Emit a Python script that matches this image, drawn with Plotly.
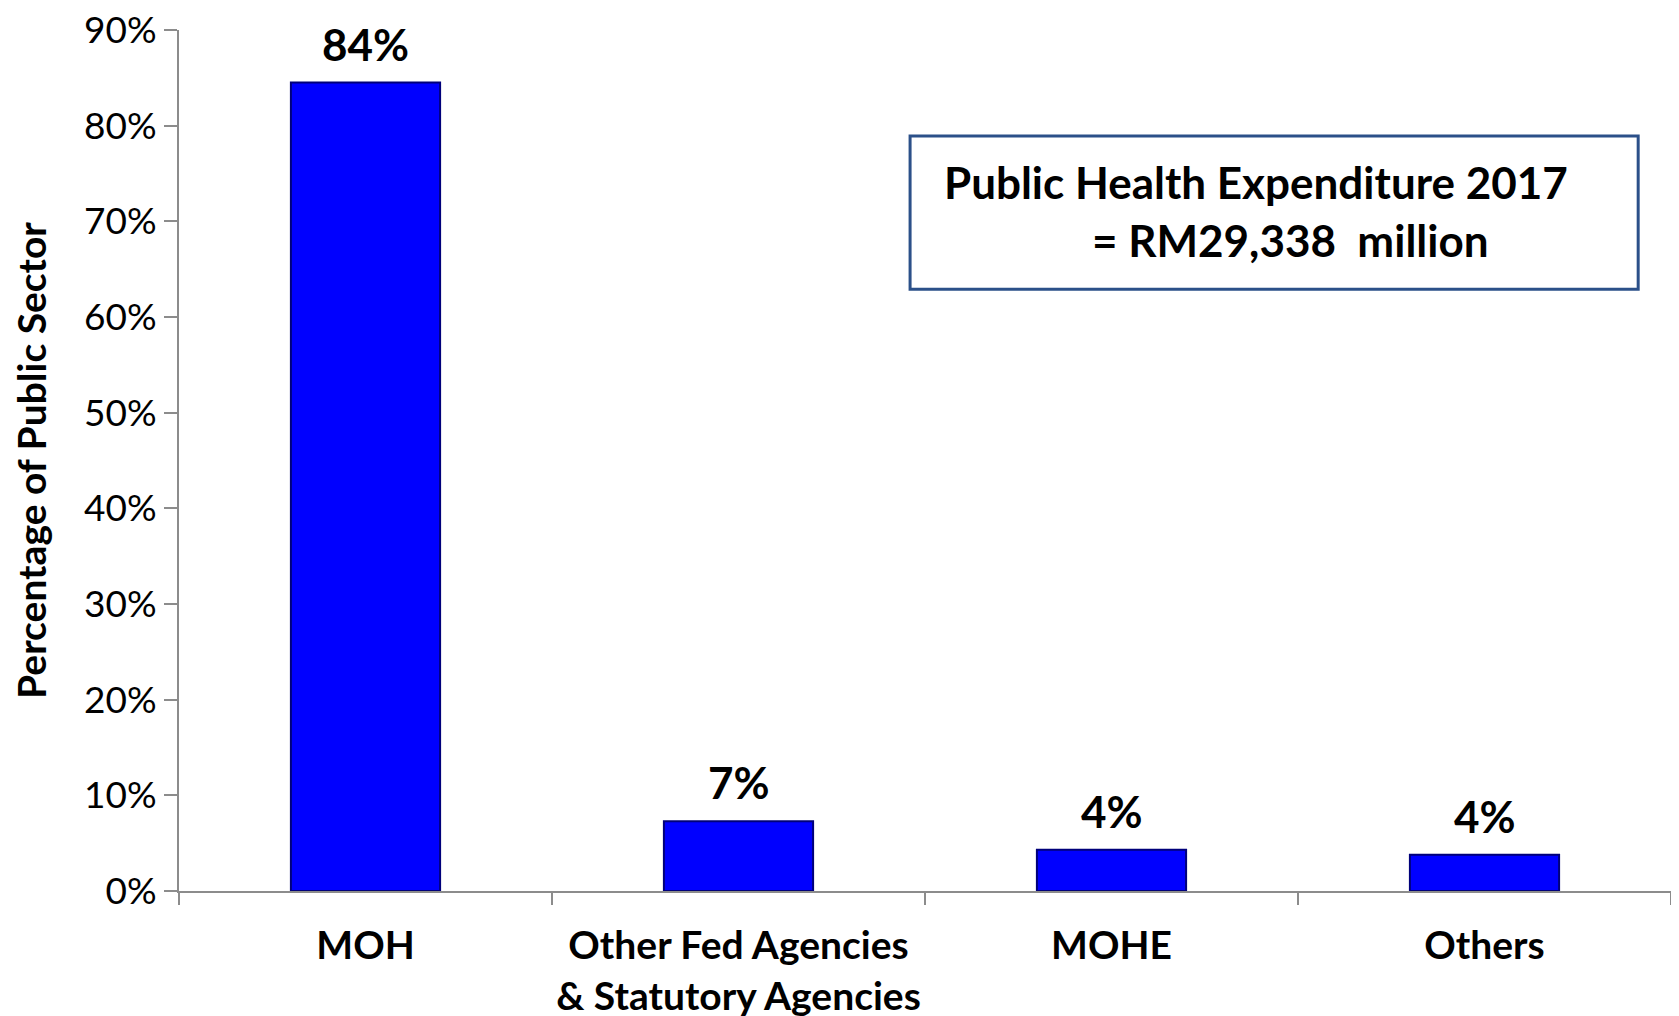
import plotly.graph_objects as go

categories = ["MOH", "Other Fed Agencies<br>& Statutory Agencies", "MOHE", "Others"]
values = [84.5, 7.3, 4.3, 3.8]
labels = ["84%", "7%", "4%", "4%"]
y_ticks = [0, 10, 20, 30, 40, 50, 60, 70, 80, 90]
y_ticktext = [f"{v}%" for v in y_ticks]
box_line1 = "Public Health Expenditure 2017"
box_line2 = "= RM29,338  million"

FONT = "Lato"

fig = go.Figure()
fig.add_trace(go.Bar(
    x=categories, y=values,
    marker=dict(color="#0000FF", line=dict(color="#00007A", width=2)),
    width=0.4,
    hoverinfo="skip",
))

for c, v, t in zip(categories, values, labels):
    fig.add_annotation(x=c, y=v, text=f"<b>{t}</b>", showarrow=False,
                       yanchor="bottom", yshift=11,
                       font=dict(family=FONT, size=44, color="black"))

fig.add_shape(type="rect", xref="paper", yref="paper",
              x0=0.490, x1=0.978, y0=0.699, y1=0.877,
              line=dict(color="#2B5089", width=3), fillcolor="white")
fig.add_annotation(xref="paper", yref="paper", x=(1256 - 179) / 1492, y=(891 - 182) / 861,
                   text=f"<b>{box_line1}</b>", showarrow=False, xanchor="center", yanchor="middle",
                   font=dict(family=FONT, size=44, color="black"))
fig.add_annotation(xref="paper", yref="paper", x=(1290 - 179) / 1492, y=(891 - 240) / 861,
                   text=f"<b>{box_line2}</b>", showarrow=False, xanchor="center", yanchor="middle",
                   font=dict(family=FONT, size=44, color="black"))

fig.update_layout(
    width=1679, height=1016,
    margin=dict(l=171, r=16, t=22, b=133),
    plot_bgcolor="white", paper_bgcolor="white",
    showlegend=False,
    font=dict(family=FONT, color="black"),
    xaxis=dict(
        type="category", automargin=False,
        showline=True, linecolor="#8C8C8C", linewidth=2,
        ticks="outside", tickson="boundaries", ticklen=12, tickwidth=2, tickcolor="#8C8C8C",
        tickfont=dict(family=FONT, size=39, color="black"),
        ticklabelstandoff=19, tickangle=0, ticklabeloverflow="allow",
        showgrid=False,
        range=[-0.5, 3.5],
    ),
    yaxis=dict(
        range=[0, 90], automargin=False,
        tickvals=y_ticks, ticktext=y_ticktext,
        showline=True, linecolor="#8C8C8C", linewidth=2,
        ticks="outside", ticklen=13, tickwidth=2, tickcolor="#8C8C8C",
        tickfont=dict(family=FONT, size=37, color="black"),
        ticklabeloverflow="allow",
        showgrid=False, zeroline=False,
        title=dict(text="<b>Percentage of Public Sector</b>", font=dict(family=FONT, size=39, color="black"), standoff=62),
    ),
)
fig.update_xaxes(tickvals=categories, ticktext=[f"<b>{c}</b>" for c in categories])

fig.write_html("out.html")
